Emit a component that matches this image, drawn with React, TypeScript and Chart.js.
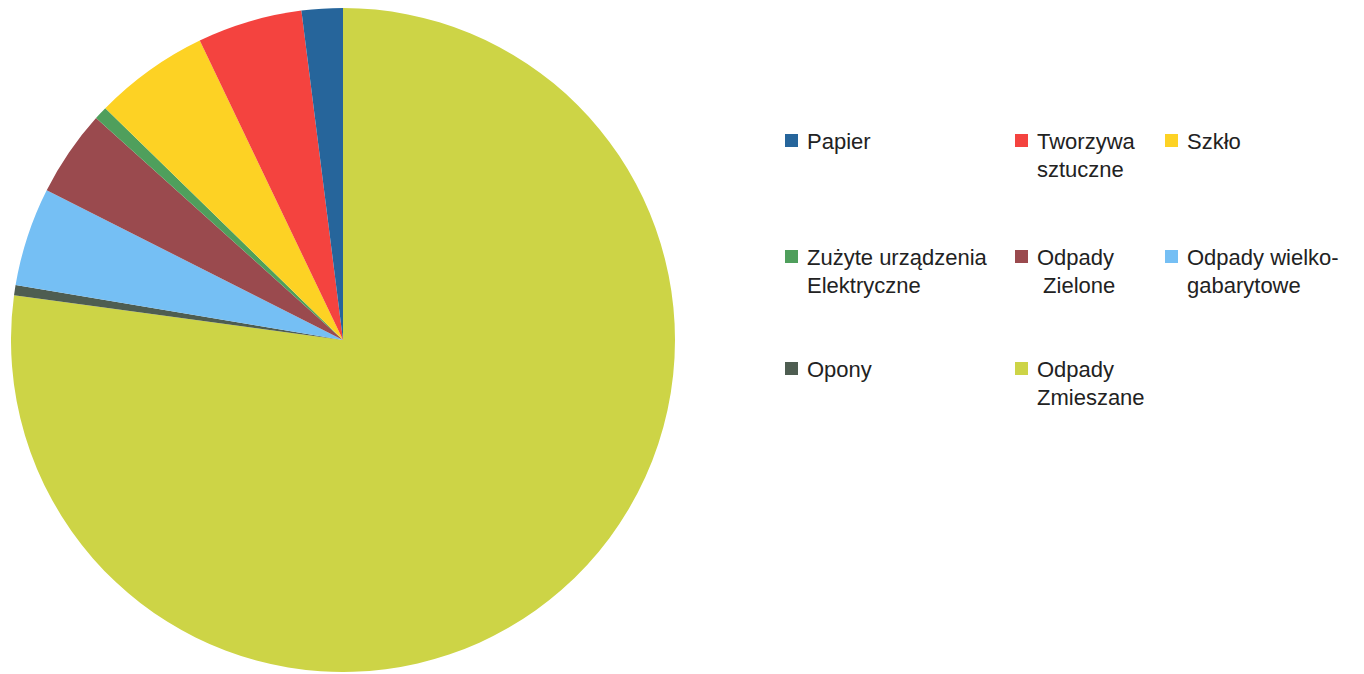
import React, { useEffect, useRef } from "react";
import { Chart, registerables } from "chart.js";

Chart.register(...registerables);

const categories = [
  "Papier",
  "Tworzywa sztuczne",
  "Szkło",
  "Zużyte urządzenia Elektryczne",
  "Odpady Zielone",
  "Odpady wielko-gabarytowe",
  "Opony",
  "Odpady Zmieszane",
];
const legendLines = [
  ["Papier"],
  ["Tworzywa", "sztuczne"],
  ["Szkło"],
  ["Zużyte urządzenia", "Elektryczne"],
  ["Odpady", "\u00a0Zielone"],
  ["Odpady wielko-", "gabarytowe"],
  ["Opony"],
  ["Odpady", "Zmieszane"],
];
const values = [2.0, 5.1, 5.6, 0.65, 4.2, 4.8, 0.5, 77.15];
const colors = [
  "#26659b",
  "#f4433f",
  "#fdd224",
  "#4f9f5c",
  "#9a4a4e",
  "#75bff4",
  "#4e5d51",
  "#cdd446",
];

const colX = [785, 1015, 1165];
const rowY = [128, 244, 356];

export default function App() {
  const ref = useRef<HTMLCanvasElement | null>(null);
  useEffect(() => {
    document.body.style.overflow = "hidden";
    if (!ref.current) return;
    const order = categories.map((_, i) => i).reverse();
    const chart = new Chart(ref.current, {
      type: "pie",
      data: {
        labels: order.map((i) => categories[i]),
        datasets: [
          {
            data: order.map((i) => values[i]),
            backgroundColor: order.map((i) => colors[i]),
            borderWidth: 0,
            hoverOffset: 0,
            offset: 0,
          },
        ],
      },
      options: {
        responsive: false,
        animation: false,
        rotation: 0,
        layout: { padding: 0 },
        plugins: {
          legend: { display: false },
          tooltip: { enabled: false },
        },
      },
    });
    return () => chart.destroy();
  }, []);

  return (
    <div style={{ position: "relative", width: 1348, height: 666 }}>
      <div
        style={{
          position: "absolute",
          left: 3,
          top: 0,
          width: 664,
          height: 664,
        }}
      >
        <canvas
          ref={ref}
          width={664}
          height={664}
          style={{ display: "block" }}
        />
      </div>
      {categories.map((c, i) => {
        const col = i % 3;
        const row = Math.floor(i / 3);
        return (
          <div
            key={c}
            style={{
              position: "absolute",
              left: colX[col] - 8,
              top: rowY[row] - 8,
              display: "flex",
              alignItems: "flex-start",
              fontFamily: "'Liberation Sans', Arial, sans-serif",
              fontSize: 22,
              lineHeight: "28px",
              color: "#222222",
              whiteSpace: "pre",
            }}
          >
            <div
              style={{
                width: 13,
                height: 13,
                marginTop: 6,
                marginRight: 9,
                background: colors[i],
                flex: "none",
              }}
            />
            <div>
              {legendLines[i].map((l, k) => (
                <div key={k}>{l}</div>
              ))}
            </div>
          </div>
        );
      })}
    </div>
  );
}
